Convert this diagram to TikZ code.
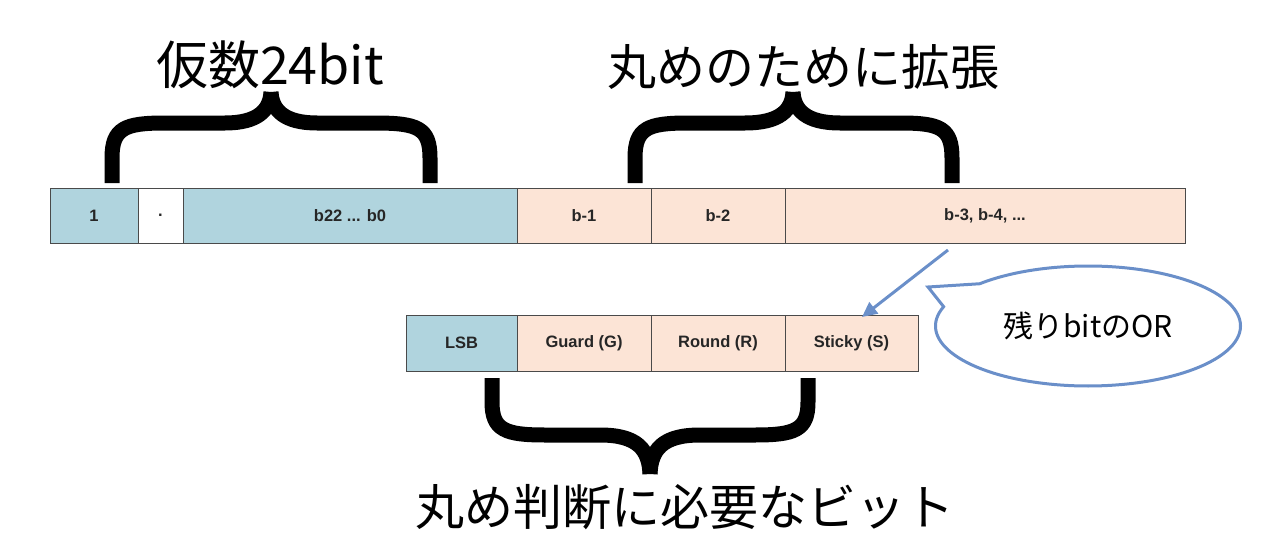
\documentclass[tikz,border=0pt]{standalone}
\usepackage{fontspec}
\setmainfont{Liberation Sans}
\newfontfamily\jpfont{Noto Sans CJK JP}
\usetikzlibrary{shapes.callouts,arrows.meta}
\definecolor{mblue}{HTML}{B0D4DE}
\definecolor{mpink}{HTML}{FCE4D6}
\definecolor{mborder}{HTML}{4A4A4A}
\definecolor{marrow}{HTML}{6A8FC9}
\tikzset{
  cell/.style={draw=mborder, line width=1pt, minimum height=55pt, inner sep=0pt,
    font=\fontsize{16.5}{18}\selectfont\bfseries, text=black!85},
  bcell/.style={cell, fill=mblue},
  pcell/.style={cell, fill=mpink},
  wcell/.style={cell, fill=white},
  brace/.style={line width=15pt, line join=round, black},
  biglabel/.style={font=\jpfont\fontsize{49}{55}\selectfont, inner sep=0pt},
}
\begin{document}
\begin{tikzpicture}[x=1pt,y=-1pt]
\useasboundingbox (0,0) rectangle (1280,551);
% top row
\node[bcell, minimum width=88pt] (one) at (94,215.5) {1};
\node[wcell, minimum width=45pt] (dot) at (160.5,215.5) {.};
\node[bcell, minimum width=334pt] (mant) at (350,215.5) {b22 ... b0};
\node[pcell, minimum width=134pt] (bm1) at (584,215.5) {b-1};
\node[pcell, minimum width=134pt] (bm2) at (718,215.5) {b-2};
\node[pcell, minimum width=400pt] (bm3) at (985,215.5) {b-3, b-4, ...};
% bottom row
\node[bcell, minimum width=111pt, minimum height=56pt] (lsb) at (461.5,343) {LSB};
\node[pcell, minimum width=134pt, minimum height=56pt] (guard) at (584,343) {Guard (G)};
\node[pcell, minimum width=134pt, minimum height=56pt] (round) at (718,343) {Round (R)};
\node[pcell, minimum width=133pt, minimum height=56pt] (sticky) at (851.5,343) {Sticky (S)};
% labels
\node[biglabel, font=\jpfont\fontsize{52}{58}\selectfont] (l1) at (270,65) {仮数24bit};
\node[biglabel] (l2) at (803,67) {丸めのために拡張};
\node[biglabel] (l3) at (685,507) {丸め判断に必要なビット};
% braces
\draw[brace] (112,183) -- (112,158) .. controls (112,128) and (125,123) .. (165,123) -- (225,123) .. controls (258,123) and (270,110) .. (271,92);
\draw[brace] (271,92) .. controls (272,110) and (284,123) .. (317,123) -- (375,123) .. controls (418,123) and (430,128) .. (430,158) -- (430,183);
\draw[brace] (635,183) -- (635,158) .. controls (635,128) and (648,123) .. (688,123) -- (745,123) .. controls (780,123) and (792,110) .. (793,92);
\draw[brace] (793,92) .. controls (794,110) and (806,123) .. (840,123) -- (900,123) .. controls (940,123) and (952,128) .. (952,158) -- (952,183);
\draw[brace] (492,378) -- (492,402) .. controls (492,430) and (505,435) .. (545,435) -- (600,435) .. controls (638,435) and (649,450) .. (650,474);
\draw[brace] (650,474) .. controls (651,450) and (662,435) .. (700,435) -- (755,435) .. controls (795,435) and (808,430) .. (808,402) -- (808,378);
% callout
\node[ellipse callout, draw=marrow, line width=3pt, fill=white,
  minimum width=305pt, minimum height=120pt, inner sep=0pt,
  callout absolute pointer={(928,287)}, callout pointer arc=26,
  font=\jpfont\fontsize{30}{34}\selectfont] (note) at (1088,326) {残りbitのOR};
% arrow
\coordinate (as) at (948,250);
\coordinate (ae) at (862,317);
\draw[marrow, line width=3pt, -{Triangle[length=15pt,width=14pt]}] (as) -- (ae);
\end{tikzpicture}
\end{document}
